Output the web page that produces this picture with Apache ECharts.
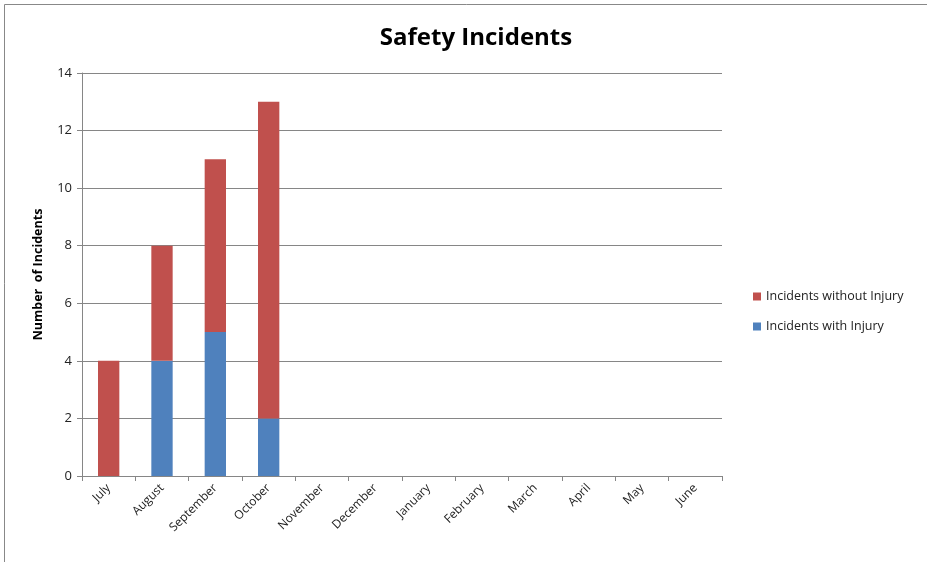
<!DOCTYPE html>
<html>
<head>
<meta charset="utf-8">
<script src="https://cdn.jsdelivr.net/npm/echarts@6/dist/echarts.min.js"></script>
<style>
  html, body { margin: 0; padding: 0; background: #fff; }
  #chart { width: 927px; height: 562px; }
</style>
</head>
<body>
<div id="chart"></div>
<script>
var months = ['July', 'August', 'September', 'October', 'November', 'December',
              'January', 'February', 'March', 'April', 'May', 'June'];
var withInjury = [0, 4, 5, 2, null, null, null, null, null, null, null, null];
var withoutInjury = [4, 4, 6, 11, null, null, null, null, null, null, null, null];

var fontFamily = '"Open Sans", "Noto Sans", sans-serif';
var chart = echarts.init(document.getElementById('chart'));
var option = {
    animation: false,
    color: ['#4F81BD', '#C0504D'],
    textStyle: { fontFamily: fontFamily },
    title: {
        text: 'Safety Incidents',
        left: 471,
        textAlign: 'center',
        top: 21,
        textStyle: { fontFamily: fontFamily, fontSize: 24, fontWeight: 'bold', color: '#000' }
    },
    legend: {
        data: ['Incidents without Injury', 'Incidents with Injury'],
        orient: 'vertical',
        left: 748,
        top: 283,
        itemWidth: 8,
        itemHeight: 8,
        itemGap: 13,
        icon: 'rect',
        textStyle: { fontSize: 12.5, color: '#222', fontFamily: fontFamily, lineHeight: 17 }
    },
    graphic: [{
        type: 'rect',
        shape: { x: 4.5, y: 4.5, width: 1000, height: 1000 },
        style: { fill: 'none', stroke: '#888', lineWidth: 1 },
        silent: true
    }],
    grid: {
        left: 82,
        right: 205,
        top: 73,
        bottom: 86,
        containLabel: false
    },
    xAxis: {
        type: 'category',
        data: months,
        boundaryGap: true,
        axisLine: { lineStyle: { color: '#868686' } },
        axisTick: { show: true, length: 5, lineStyle: { color: '#868686' } },
        axisLabel: { rotate: 45, interval: 0, color: '#222', fontSize: 12, margin: 10 }
    },
    yAxis: {
        type: 'value',
        min: 0,
        max: 14,
        interval: 2,
        name: 'Number  of Incidents',
        nameLocation: 'middle',
        nameGap: 37,
        nameTextStyle: { fontWeight: 'bold', fontSize: 12.5, color: '#000' },
        axisLine: { show: true, lineStyle: { color: '#868686' } },
        axisTick: { show: true, length: 5, lineStyle: { color: '#868686' } },
        axisLabel: { color: '#222', fontSize: 13, margin: 10 },
        splitLine: { show: true, lineStyle: { color: '#868686', width: 1 } }
    },
    series: [
        {
            name: 'Incidents with Injury',
            type: 'bar',
            stack: 'total',
            barWidth: '40%',
            data: withInjury
        },
        {
            name: 'Incidents without Injury',
            type: 'bar',
            stack: 'total',
            barWidth: '40%',
            data: withoutInjury
        }
    ]
};
chart.setOption(option);
</script>
</body>
</html>
